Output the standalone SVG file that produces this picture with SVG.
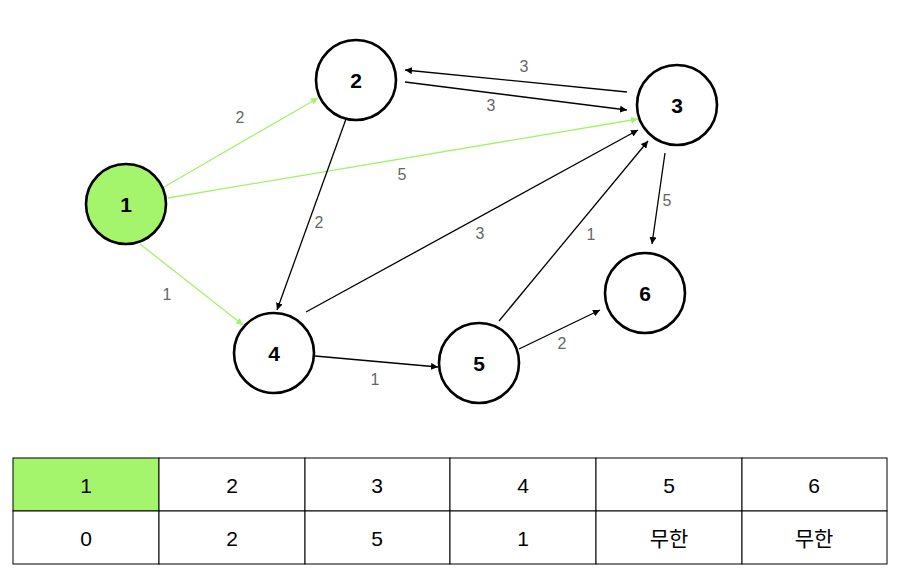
<svg xmlns="http://www.w3.org/2000/svg" width="898" height="572" viewBox="0 0 898 572">
<style>
.node circle{stroke:#000;stroke-width:2.6;fill:#fff}
.node text{font-family:"Liberation Sans",Arial,sans-serif;font-size:21px;font-weight:bold;text-anchor:middle;dominant-baseline:central;fill:#000}
.e{fill:none;stroke:#000;stroke-width:1.3}
.g{fill:none;stroke:#a3f26b;stroke-width:1.3}
.lbl{font-family:"Liberation Sans",Arial,sans-serif;font-size:16px;fill:#666;text-anchor:middle;dominant-baseline:central}
.cell{fill:#fff;stroke:#000;stroke-width:1}
.ct{font-family:"Liberation Sans","Noto Sans CJK KR",sans-serif;font-size:21px;fill:#000;text-anchor:middle;dominant-baseline:central}
</style>
<defs>
<marker id="ab" viewBox="0 0 10 10" refX="10" refY="5" markerWidth="7" markerHeight="7" markerUnits="userSpaceOnUse" orient="auto"><path d="M0,0 L10,5 L0,10 z" fill="#000"/></marker>
<marker id="ag" viewBox="0 0 10 10" refX="10" refY="5" markerWidth="7" markerHeight="7" markerUnits="userSpaceOnUse" orient="auto"><path d="M0,0 L10,5 L0,10 z" fill="#a3f26b"/></marker>
</defs>
<g id="connectors">
<line class="g" x1="164" y1="187" x2="318" y2="98" marker-end="url(#ag)"/>
<line class="g" x1="168" y1="198" x2="638" y2="119" marker-end="url(#ag)"/>
<line class="g" x1="140" y1="244" x2="243" y2="325" marker-end="url(#ag)"/>
<line class="e" x1="405" y1="82" x2="627" y2="110" marker-end="url(#ab)"/>
<line class="e" x1="627" y1="92" x2="405" y2="70" marker-end="url(#ab)"/>
<line class="e" x1="346" y1="119" x2="277" y2="310" marker-end="url(#ab)"/>
<line class="e" x1="306" y1="312" x2="638" y2="130" marker-end="url(#ab)"/>
<line class="e" x1="499" y1="321" x2="648" y2="141" marker-end="url(#ab)"/>
<line class="e" x1="665" y1="153" x2="652" y2="244" marker-end="url(#ab)"/>
<line class="e" x1="315" y1="356" x2="438" y2="367" marker-end="url(#ab)"/>
<line class="e" x1="519" y1="349" x2="600" y2="310" marker-end="url(#ab)"/>
<text class="lbl" x="240" y="117">2</text>
<text class="lbl" x="402" y="174">5</text>
<text class="lbl" x="167" y="294">1</text>
<text class="lbl" x="524" y="66">3</text>
<text class="lbl" x="491" y="105">3</text>
<text class="lbl" x="319" y="222">2</text>
<text class="lbl" x="480" y="233">3</text>
<text class="lbl" x="591" y="234">1</text>
<text class="lbl" x="667" y="200">5</text>
<text class="lbl" x="375" y="379">1</text>
<text class="lbl" x="562" y="343">2</text>
</g>
<g id="n1" class="node"><circle cx="126" cy="204" r="40" style="fill:#a5f56c"/><text x="126" y="204">1</text></g>
<g id="n2" class="node"><circle cx="356" cy="80" r="40"/><text x="356" y="80">2</text></g>
<g id="n3" class="node"><circle cx="677" cy="105" r="40"/><text x="677" y="105">3</text></g>
<g id="n4" class="node"><circle cx="274" cy="353" r="40"/><text x="274" y="353">4</text></g>
<g id="n5" class="node"><circle cx="479" cy="363" r="40"/><text x="479" y="363">5</text></g>
<g id="n6" class="node"><circle cx="645" cy="293" r="40"/><text x="645" y="293">6</text></g>
<g id="table">
<rect class="cell" x="13" y="458" width="146" height="53" style="fill:#a5f56c"/>
<rect class="cell" x="159" y="458" width="146" height="53"/>
<rect class="cell" x="305" y="458" width="145" height="53"/>
<rect class="cell" x="450" y="458" width="146" height="53"/>
<rect class="cell" x="596" y="458" width="146" height="53"/>
<rect class="cell" x="742" y="458" width="145" height="53"/>
<rect class="cell" x="13" y="511" width="146" height="53"/>
<rect class="cell" x="159" y="511" width="146" height="53"/>
<rect class="cell" x="305" y="511" width="145" height="53"/>
<rect class="cell" x="450" y="511" width="146" height="53"/>
<rect class="cell" x="596" y="511" width="146" height="53"/>
<rect class="cell" x="742" y="511" width="145" height="53"/>
<text class="ct" x="86" y="485">1</text>
<text class="ct" x="232" y="485">2</text>
<text class="ct" x="377" y="485">3</text>
<text class="ct" x="523" y="485">4</text>
<text class="ct" x="669" y="485">5</text>
<text class="ct" x="814" y="485">6</text>
<text class="ct" x="86" y="538">0</text>
<text class="ct" x="232" y="538">2</text>
<text class="ct" x="377" y="538">5</text>
<text class="ct" x="523" y="538">1</text>
<text class="ct" x="669" y="538">무한</text>
<text class="ct" x="814" y="538">무한</text>
</g>
</svg>
